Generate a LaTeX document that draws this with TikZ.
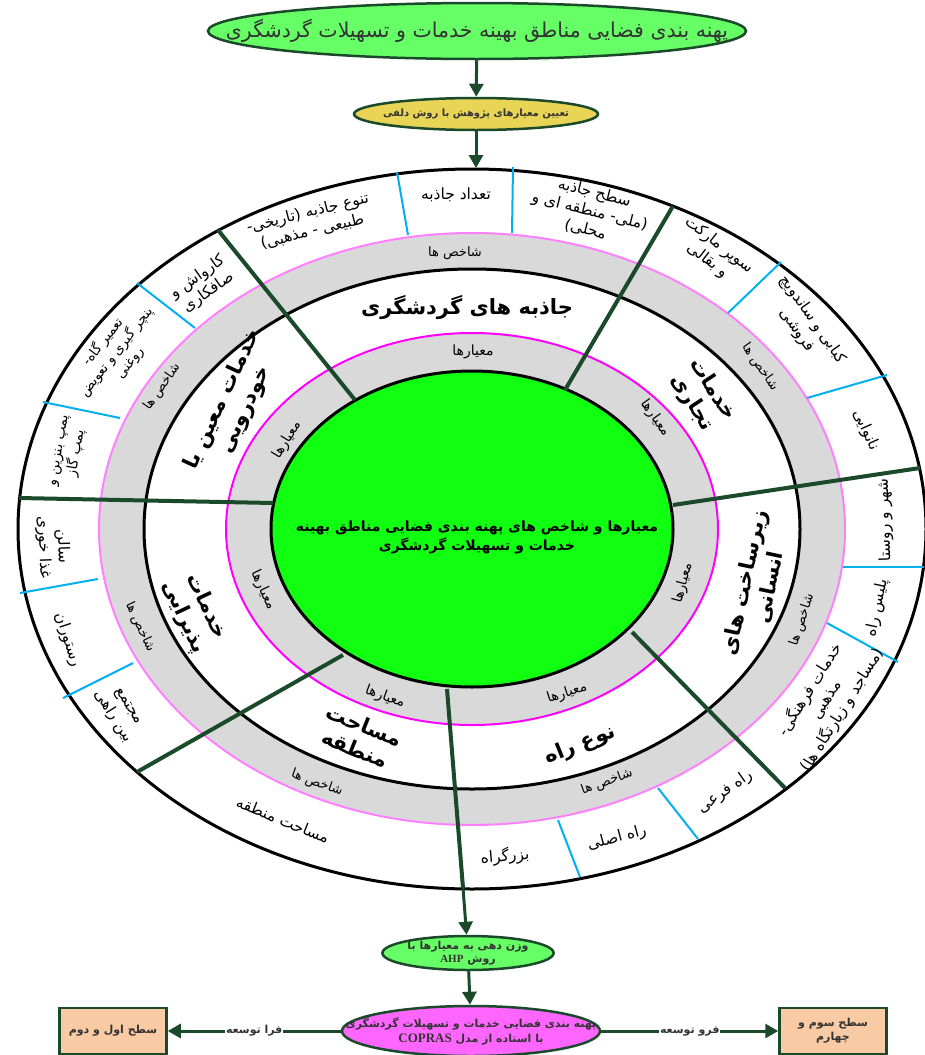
\documentclass[tikz,border=0pt]{standalone}
\usepackage{fontspec}
\usepackage{tikz}
\usetikzlibrary{positioning,arrows.meta,shapes.geometric}
\TeXXeTstate=1
\newfontfamily\farsi[Script=Arabic]{DejaVu Sans}
\newfontfamily\latinserif{Liberation Serif}
\newcommand\fline[1]{\beginR#1\endR}
\definecolor{ringdark}{HTML}{1B4A2B}
\definecolor{titlegreen}{HTML}{66FF66}
\definecolor{coregreen}{HTML}{11FF11}
\definecolor{delphiyellow}{HTML}{E8D555}
\definecolor{coprasp}{HTML}{FF66FF}
\definecolor{boxpeach}{HTML}{F8CBA4}
\definecolor{bandgray}{HTML}{D9D9D9}
\definecolor{ringpink}{HTML}{FF80FF}
\definecolor{ringmag}{HTML}{FF00FF}
\definecolor{subblue}{HTML}{00B0F0}

\begin{document}
\begin{tikzpicture}[x=1pt, y=-1pt,
  bubble/.style={ellipse, draw=ringdark, line width=2.5pt, inner sep=0pt,
    align=center, text=black!80},
  lvl/.style={rectangle, draw=ringdark, line width=2.5pt, fill=boxpeach,
    minimum width=107pt, minimum height=46pt, align=center, text=black!80,
    font=\farsi\bfseries\fontsize{11}{14}\selectfont},
  arr/.style={draw=ringdark, line width=3pt, -{Triangle[length=13pt,width=14pt]}},
  divider/.style={ringdark, line width=4pt},
  subline/.style={subblue, line width=2pt},
  ind/.style={font=\farsi\fontsize{15.5}{19}\selectfont, align=center, inner sep=0pt},
  crit/.style={font=\farsi\bfseries\fontsize{21}{25}\selectfont, align=center, inner sep=0pt},
  shx/.style={font=\farsi\fontsize{13}{15}\selectfont, inner sep=0pt},
  mix/.style={font=\farsi\fontsize{14}{16}\selectfont, inner sep=0pt},
  ]
  \useasboundingbox (0,0) rectangle (924,1055);

  % top of the chart
  \node[bubble, fill=titlegreen, minimum width=538pt, minimum height=56pt,
    inner xsep=-80pt, font=\farsi\fontsize{20.5}{24}\selectfont] (title) at (477,31)
    {\fline{پهنه بندی فضایی مناطق بهینه خدمات و تسهیلات گردشگری}};
  \node[bubble, fill=delphiyellow, minimum width=244pt, minimum height=32pt,
    inner xsep=-30pt, font=\farsi\bfseries\fontsize{10}{12}\selectfont] (delphi) at (476,114)
    {\fline{تعیین معیارهای پژوهش با روش دلفی}};

  % rings
  \coordinate (C) at (472,529);
  \draw[black, line width=3pt, fill=white] (C) ellipse [x radius=454, y radius=360];
  \draw[ringpink, line width=2pt, fill=bandgray] (C) ellipse [x radius=373, y radius=296];
  \draw[black, line width=3pt, fill=white] (C) ellipse [x radius=328, y radius=260];
  \draw[ringmag, line width=2pt, fill=bandgray] (C) ellipse [x radius=246, y radius=196];
  \draw[black, line width=3pt, fill=coregreen] (C) ellipse [x radius=201, y radius=158];
  \coordinate (ringtop) at (476,168);
  \coordinate (ringbot) at (463,888);

  % indicator separators
  \foreach \ax/\ay/\bx/\by in {408/235/397/172, 512/233/513/167, 728/313/781/262,
      807/398/887/375, 843/567/924/567, 827/623/898/662, 658/788/698/839,
      558/820/580/877, 98/579/20/593, 133/663/63/698, 120/418/43/402, 195/328/137/283}
    \draw[subline] (\ax,\ay) -- (\bx,\by);

  % sector dividers
  \foreach \ax/\ay/\bx/\by in {355/400/218/230, 565/390/673/206, 673/505/920/468,
      632/632/785/788, 447/689/463/888, 343/655/137/772, 273/503/19/498}
    \draw[divider] (\ax,\ay) -- (\bx,\by);

  \node[font=\farsi\bfseries\fontsize{14}{19}\selectfont, align=center] (core) at (477,537)
    {\fline{معیارها و شاخص های پهنه بندی فضایی مناطق بهینه}\\\fline{خدمات و تسهیلات گردشگری}};

  \foreach \x/\y/\r [count=\i] in {473/352/0, 655/418/-55, 683/583/75, 567/693/18,
      385/697/-20, 263/590/-65, 287/440/58}
    \node[mix, rotate=\r] (mi\i) at (\x,\y) {\fline{معیارها}};
  \foreach \x/\y/\r [count=\i] in {455/253/0, 760/367/-55, 802/620/72, 607/782/20,
      317/783/-20, 140/627/-65, 162/387/55}
    \node[shx, rotate=\r] (sh\i) at (\x,\y) {\fline{شاخص ها}};

  % criteria
  \node[crit] (jazebe) at (467,308) {\fline{جاذبه های گردشگری}};
  \node[crit, rotate=-57] (tejari) at (702,396) {\fline{خدمات}\\\fline{تجاری}};
  \node[crit, rotate=78] (zirsakht) at (757,585) {\fline{زیرساخت های}\\\fline{انسانی}};
  \node[crit, rotate=22] (noerah) at (580,745) {\fline{نوع راه}};
  \node[crit, rotate=-22] (masahat) at (360,737) {\fline{مساحت}\\\fline{منطقه}};
  \node[crit, rotate=-65] (pazirai) at (195,612) {\fline{خدمات}\\\fline{پذیرایی}};
  \node[crit, rotate=65] (khodro) at (234,405) {\fline{خدمات معین یا}\\\fline{خودرویی}};

  % indicators
  \node[ind, rotate=14] (tanavo) at (310,222)
    {\fline{تنوع جاذبه (تاریخی-}\\\fline{طبیعی - مذهبی)}};
  \node[ind] (tedad) at (456,195) {\fline{تعداد جاذبه}};
  \node[ind, rotate=-14] (sath) at (590,211)
    {\fline{سطح جاذبه}\\\fline{(ملی- منطقه ای و}\\\fline{محلی)}};
  \node[ind, rotate=-38] (super) at (713,253) {\fline{سوپر مارکت}\\\fline{و بقالی}};
  \node[ind, rotate=-55] (kababi) at (805,325) {\fline{کبابی و ساندویچ}\\\fline{فروشی}};
  \node[ind, rotate=-66] (nanvai) at (866,430) {\fline{نانوایی}};
  \node[ind, rotate=92] (shahr) at (885,520) {\fline{شهر و روستا}};
  \node[ind, rotate=78] (police) at (877,608) {\fline{پلیس راه}};
  \node[ind, rotate=58] (farhangi) at (826,700)
    {\fline{خدمات فرهنگی-}\\\fline{مذهبی}\\\fline{(مساجد و زیارتگاه ها)}};
  \node[ind, rotate=35] (farei) at (725,792) {\fline{راه فرعی}};
  \node[ind, rotate=15] (asli) at (617,838) {\fline{راه اصلی}};
  \node[ind, rotate=5] (bozorg) at (505,856) {\fline{بزرگراه}};
  \node[ind, rotate=-22] (masind) at (283,820) {\fline{مساحت منطقه}};
  \node[ind, rotate=-58] (majtama) at (120,712) {\fline{مجتمع}\\\fline{بین راهی}};
  \node[ind, rotate=-72] (restoran) at (68,640) {\fline{رستوران}};
  \node[ind, rotate=-88] (salon) at (53,547) {\fline{سالن}\\\fline{غذا خوری}};
  \node[ind, rotate=80, font=\farsi\fontsize{14}{18}\selectfont] (pomp) at (69,452)
    {\fline{پمپ بنزین و}\\\fline{پمپ گاز}};
  \node[ind, rotate=52, font=\farsi\fontsize{13.5}{17}\selectfont] (tamir) at (116,352)
    {\fline{تعمیر گاه-}\\\fline{پنچر گیری و تعویض}\\\fline{روغنی}};
  \node[ind, rotate=35] (karvash) at (203,285) {\fline{کارواش و}\\\fline{صافکاری}};

  % bottom of the chart
  \node[bubble, fill=titlegreen, minimum width=160pt, minimum height=34pt,
    inner ysep=-6pt, font=\farsi\bfseries\fontsize{11}{13}\selectfont] (ahp) at (468,953)
    {\fline{وزن دهی به معیارها با}\\\fline{روش \beginL{\latinserif\bfseries AHP}\endL}};
  \node[bubble, fill=coprasp, minimum width=258pt, minimum height=50pt,
    inner xsep=-50pt, inner ysep=-5pt, font=\farsi\bfseries\fontsize{11}{15}\selectfont] (copras) at (471,1031)
    {\fline{پهنه بندی فضایی خدمات و تسهیلات گردشگری}\\\fline{با استاده از مدل \beginL{\latinserif\bfseries\fontsize{13}{15}\selectfont COPRAS}\endL}};
  \node[lvl] (lvlA) at (113,1031) {\fline{سطح اول و دوم}};
  \node[lvl] (lvlB) at (833,1031) {\fline{سطح سوم و}\\\fline{چهارم}};

  \draw[arr] (title) -- (delphi);
  \draw[arr] (delphi) -- (ringtop);
  \draw[arr] (ringbot) -- (ahp);
  \draw[arr] (ahp) -- (copras);
  \draw[arr] (copras) -- node[fill=white, inner sep=1pt, text=black!80,
    font=\farsi\bfseries\fontsize{11}{13}\selectfont] (fara) {\fline{فرا توسعه}} (lvlA);
  \draw[arr] (copras) -- node[fill=white, inner sep=1pt, text=black!80,
    font=\farsi\bfseries\fontsize{11}{13}\selectfont] (foro) {\fline{فرو توسعه}} (lvlB);
\end{tikzpicture}
\end{document}
